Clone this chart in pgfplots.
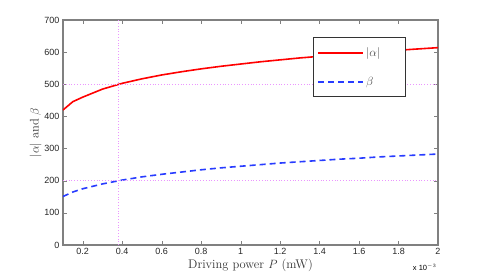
\documentclass[border=0pt]{standalone}
\usepackage{pgfplots}
\pgfplotsset{compat=1.18}
\usepackage{fontspec}
\newfontfamily\arial{Liberation Sans}
\definecolor{dotc}{RGB}{235,150,255}
\definecolor{bluec}{RGB}{40,60,255}
\begin{document}
\begin{tikzpicture}
\path[use as bounding box] (-63pt,-32pt) rectangle (422pt,245pt);
\begin{axis}[
  at={(0pt,0pt)}, anchor=south west,
  scale only axis, width=375pt, height=225pt,
  xmin=0.1, xmax=2, ymin=0, ymax=700,
  xtick={0.2,0.4,...,2.0},
  xticklabels={0.2,0.4,0.6,0.8,1,1.2,1.4,1.6,1.8,2},
  ytick={0,100,...,700},
  /pgf/number format/assume math mode=true,
  tick label style={font=\arial\fontsize{9}{10}\selectfont, text=black!85},
  tick align=inside, tick pos=both,
  major tick length=4pt,
  axis x line=box, axis y line=box,
  x axis line style={black, line width=0.8pt},
  y axis line style={gray, line width=1.6pt},
  xlabel={Driving power $P$ (mW)},
  ylabel={$|\alpha|$ and $\beta$},
  label style={font=\fontsize{12.5}{14}\selectfont, text=black!80},
  xlabel style={yshift=3pt},
  ylabel style={yshift=-4pt},
  legend style={at={(0.667,0.924)}, anchor=north west, draw=black!80, line width=0.8pt,
    font=\fontsize{12.5}{14}\selectfont, inner xsep=4pt, inner ysep=8pt,
    row sep=15pt, text=black!70,
    nodes={inner sep=2pt, text width=33pt, align=left}},
  legend cell align=left,
  legend image code/.code={\draw[#1] (0pt,0pt) -- (45pt,0pt);},
  clip mode=individual,
]
\addplot[red, line width=1.6pt] coordinates {
(0.1,420)(0.15,446)(0.2,460)(0.3,485)(0.4,503)(0.5,517)(0.6,529)(0.7,539)(0.8,548)
(0.9,556)(1.0,563)(1.1,570)(1.2,576)(1.3,582)(1.4,587)(1.5,592)(1.6,597)(1.7,602)
(1.8,606)(1.9,610)(2.0,614)};
\addlegendentry{$|\alpha|$}
\addplot[bluec, line width=1.6pt, dash pattern=on 6pt off 4pt] coordinates {
(0.1,151)(0.15,165)(0.2,175)(0.3,190)(0.4,202)(0.5,212)(0.6,220)(0.7,227)(0.8,234)
(0.9,240)(1.0,245)(1.1,250)(1.2,255)(1.3,259)(1.4,263)(1.5,267)(1.6,270)(1.7,274)
(1.8,277)(1.9,280)(2.0,283)};
\addlegendentry{$\beta$}
\addplot[dotc, line width=0.8pt, dotted, forget plot] coordinates {(0.38,0)(0.38,700)};
\addplot[dotc, line width=0.8pt, dotted, forget plot] coordinates {(0.1,500)(2,500)};
\addplot[dotc, line width=0.8pt, dotted, forget plot] coordinates {(0.1,200)(2,200)};
\node[font=\arial\fontsize{7.5}{8}\selectfont, anchor=north east] at (rel axis cs:1,0) [yshift=-16pt, xshift=2pt] {x 10$^{-3}$};
\end{axis}
\end{tikzpicture}
\end{document}
